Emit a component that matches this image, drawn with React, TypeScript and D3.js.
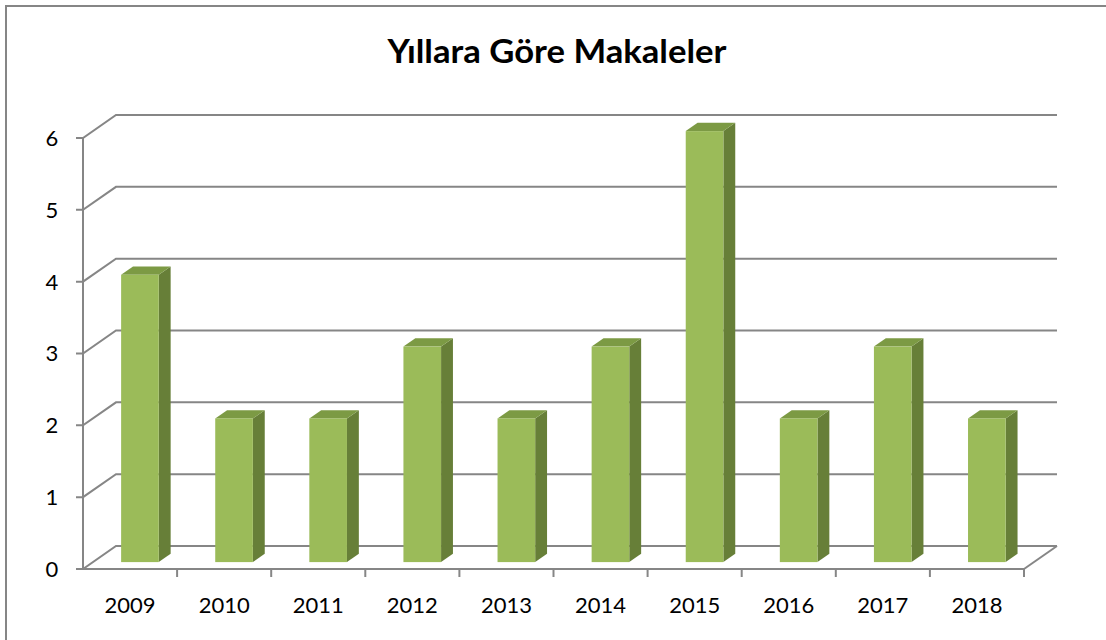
import React from "react";
import * as d3 from "d3";

// values
const years = ["2009", "2010", "2011", "2012", "2013", "2014", "2015", "2016", "2017", "2018"];
const counts = [4, 2, 2, 3, 2, 3, 6, 2, 3, 2];
const yTicks = [0, 1, 2, 3, 4, 5, 6];
const title = "Yıllara Göre Makaleler";

const W = 1106;
const H = 640;
const left = 83;
const right = 1024;
const bottom = 569;
const top = 138;
// 3d depth of the floor/back wall
const depthX = 33;
const depthY = -23;
const gridColor = "#868686";
const font = "Lato, 'Open Sans', sans-serif";

export default function App() {
  const x = d3.scaleBand<string>().domain(years).range([left, right]).paddingInner(0).paddingOuter(0);
  const y = d3.scaleLinear().domain([0, 6]).range([bottom, top]);

  const barW = x.bandwidth() * 0.4;
  // bars sit between these depth fractions
  const d0 = 0.3;
  const d1 = 0.66;
  const fx = depthX * d0, fy = depthY * d0;
  const bx = depthX * d1, by = depthY * d1;

  return (
    <svg width={W} height={H} style={{ position: "absolute", left: 0, top: 0 }}>
      <rect x={0} y={0} width={W} height={H} fill="#fff" />
      <rect x={6} y={6} width={W + 20} height={H + 20} fill="none" stroke={gridColor} strokeWidth={2} />

      <text x={557} y={63} textAnchor="middle" fontFamily={font} fontWeight={700} fontSize={33}
        textLength={339} lengthAdjust="spacingAndGlyphs" fill="#000">{title}</text>

      {/* back wall gridlines */}
      {yTicks.map(v => (
        <g key={v} stroke={gridColor} strokeWidth={2} fill="none">
          <polyline points={`${left - 7},${y(v)} ${left},${y(v)} ${left + depthX},${y(v) + depthY} ${right + depthX},${y(v) + depthY}`} />
          <text x={52} y={y(v)} dy="0.36em" textAnchor="middle" fontFamily={font} fontSize={22}
            fill="#000" stroke="none">{v}</text>
        </g>
      ))}

      {/* floor */}
      <g stroke={gridColor} strokeWidth={2} fill="none">
        <line x1={left} y1={y(0)} x2={left} y2={y(6)} />
        <line x1={left} y1={bottom} x2={right} y2={bottom} />
        <line x1={right} y1={bottom} x2={right + depthX} y2={bottom + depthY} />
        {years.map((yr, i) => (
          <line key={yr} x1={x(yr)! + x.bandwidth()} y1={bottom} x2={x(yr)! + x.bandwidth()} y2={bottom + 8} />
        ))}
      </g>

      {/* bars */}
      {years.map((yr, i) => {
        const cx = x(yr)! + x.bandwidth() / 2 + fx;
        const x0 = cx - barW / 2;
        const x1 = cx + barW / 2;
        const yb = y(0) + fy;
        const yt = y(counts[i]) + fy;
        const ddx = bx - fx, ddy = by - fy;
        return (
          <g key={yr}>
            <polygon points={`${x1},${yb} ${x1 + ddx},${yb + ddy} ${x1 + ddx},${yt + ddy} ${x1},${yt}`} fill="#677F38" />
            <polygon points={`${x0},${yt} ${x1},${yt} ${x1 + ddx},${yt + ddy} ${x0 + ddx},${yt + ddy}`} fill="#7C9A44" />
            <rect x={x0} y={yt} width={barW} height={yb - yt} fill="#9BBB59" />
          </g>
        );
      })}

      {years.map(yr => (
        <text key={yr} x={x(yr)! + x.bandwidth() / 2} y={613} textAnchor="middle" fontFamily={font}
          fontSize={22} fill="#000">{yr}</text>
      ))}
    </svg>
  );
}
